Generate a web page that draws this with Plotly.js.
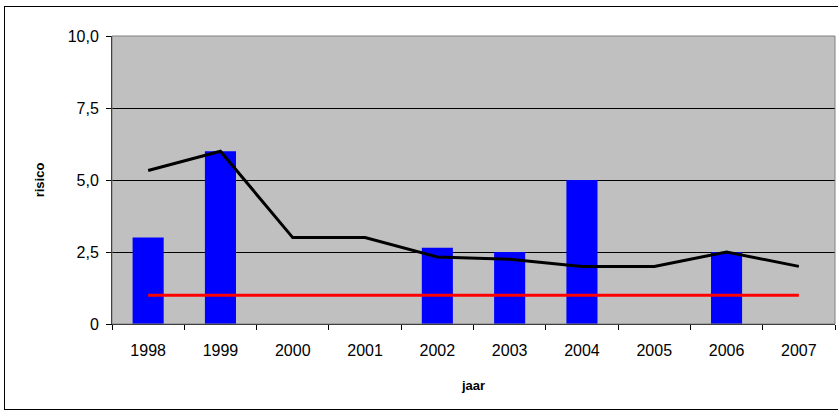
<!DOCTYPE html>
<html>
<head>
<meta charset="utf-8">
<script src="https://cdn.plot.ly/plotly-3.0.1.min.js"></script>
<style>
  body { margin: 0; background: #fff; }
  #frame { position: absolute; left: 4px; top: 6px; width: 850px; height: 402px; border: 1px solid #000; }
  #chart { position: absolute; left: 0; top: 0; width: 838px; height: 414px; }
</style>
</head>
<body>
<div id="frame"></div>
<div id="chart"></div>
<script>
var years = ['1998', '1999', '2000', '2001', '2002', '2003', '2004', '2005', '2006', '2007'];
var barValues = [3.0, 6.0, null, null, 2.65, 2.5, 5.0, null, 2.5, null];
var lineValues = [5.33, 6.0, 3.0, 3.0, 2.33, 2.25, 2.0, 2.0, 2.5, 2.0];
var normValues = [1, 1, 1, 1, 1, 1, 1, 1, 1, 1];
var yTicks = [0, 2.5, 5, 7.5, 10];
var yTickLabels = ['0', '2,5', '5,0', '7,5', '10,0'];

var data = [
    { type: 'bar', x: years, y: barValues, marker: { color: '#0000FF' }, width: 0.43 },
    { type: 'scatter', mode: 'lines', x: years, y: normValues, line: { color: '#FF0000', width: 3 } },
    { type: 'scatter', mode: 'lines', x: years, y: lineValues, line: { color: '#000000', width: 3 } }
];

var layout = {
    width: 838,
    height: 414,
    paper_bgcolor: 'rgba(0,0,0,0)',
    plot_bgcolor: '#C0C0C0',
    margin: { t: 36, r: 3, b: 90, l: 112 },
    showlegend: false,
    font: { family: 'Liberation Sans, Arial, sans-serif', size: 16, color: '#000' },
    xaxis: {
        type: 'category',
        ticks: 'outside',
        tickson: 'boundaries',
        ticklen: 5,
        tickcolor: '#000',
        ticklabelstandoff: 12,
        showline: true,
        linecolor: '#000',
        showgrid: false,
        title: { text: 'jaar', font: { size: 13, weight: 'bold' }, standoff: 22 }
    },
    yaxis: {
        range: [0, 10],
        tickvals: yTicks,
        ticktext: yTickLabels,
        ticks: 'outside',
        ticklen: 5,
        tickcolor: '#000',
        ticklabelstandoff: 4,
        showline: true,
        linecolor: '#000',
        gridcolor: '#000',
        gridwidth: 1,
        zeroline: false,
        title: { text: 'risico', font: { size: 13, weight: 'bold' }, standoff: 20 }
    },
    shapes: [
        { type: 'rect', xref: 'paper', yref: 'paper', x0: 0, x1: 1, y0: 0, y1: 1, line: { color: '#808080', width: 1 } }
    ]
};

Plotly.newPlot('chart', data, layout, { displayModeBar: false, staticPlot: true });
</script>
</body>
</html>
